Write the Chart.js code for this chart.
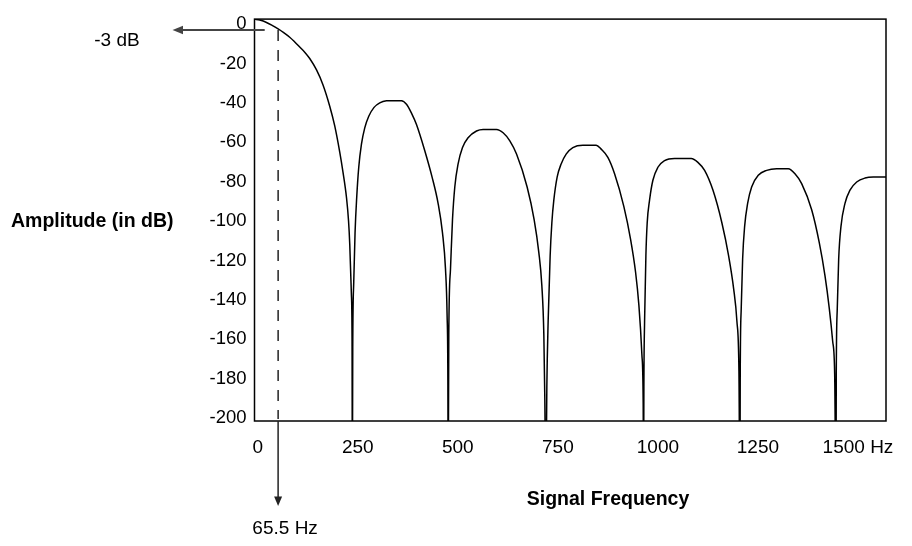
<!DOCTYPE html>
<html>
<head>
<meta charset="utf-8">
<title>Sinc filter response</title>
<script src="https://cdn.jsdelivr.net/npm/chart.js@4.4.1/dist/chart.umd.min.js"></script>
<style>
    html, body { margin: 0; padding: 0; background: #fff; }
    canvas { display: block; }
</style>
</head>
<body>
<canvas id="responseChart" width="912" height="546"></canvas>
<script>
// Filter frequency response
// Nulls go to -240 dB so the library clips them at the bottom of the plot
const freqHz = [
    -8, 5, 22, 36, 51, 65, 80, 92, 105, 118, 130, 147, 163, 180, 192.5, 205, 213, 222, 227, 230, 234, 235.8,
    236.5,
    237.5, 240, 243.25, 247.5, 252.5, 259.25, 267.5, 277.5, 290.75, 305, 321.75, 338.25, 359.25, 371.75, 384.25, 396.75, 417.5, 435.75, 450.75, 461.75, 469.25, 473.25, 475.2,
    475.9,
    477.5, 481.75, 486.75, 492.5, 500.75, 511.75, 525.75, 546.75, 563.25, 596.75, 613.25, 630, 646.75, 673.25, 690.75, 702.5, 710, 715, 717.5,
    720,
    722.5, 725.75, 730.75, 735, 740, 748.25, 758.25, 770.75, 787.5, 812.5, 845.75, 858.25, 875, 891.75, 915, 931.75, 944.25, 952.5, 960, 963.25,
    964.25,
    965, 966.75, 970, 973.25, 979.25, 987.5, 1000, 1016.75, 1041.75, 1083.25, 1100, 1116.75, 1137.5, 1160, 1176.75, 1189.25, 1197.5, 1202.5,
    1205,
    1205.75, 1208.25, 1211.75, 1216.75, 1224.25, 1234.25, 1250.75, 1271.75, 1296.75, 1325.75, 1342.5, 1359.25, 1384.25, 1403.25, 1417.5, 1428.25, 1436.75, 1441.75,
    1445,
    1445.75, 1448.25, 1451.75, 1457.5, 1467.5, 1480, 1496.75, 1517.5, 1538.25, 1570
];
const ampDb = [
    2.5, 2.0, 0.8, -0.7, -2.5, -4.4, -6.7, -9, -11.7, -14.4, -17.5, -23.3, -30.8, -41.7, -51.7, -65, -75, -88.3, -100, -111.7, -136.7, -161.7,
    -240,
    -164.3, -131, -106, -87.7, -72.7, -61, -52.7, -46.8, -42.3, -40, -39, -38.9, -38.9, -40.7, -45.2, -51, -64.3, -77.7, -91, -106, -124.3, -147.7, -181,
    -240,
    -157.7, -124.3, -99.3, -82.7, -71, -62.7, -57.7, -54.3, -53.5, -53.5, -55.2, -59.3, -66, -82.7, -99.3, -116, -132.7, -157.7, -191,
    -240,
    -184.3, -151, -117.7, -101, -89.3, -77.7, -71, -66, -62.7, -61.5, -61.5, -63.5, -67.7, -76, -92.7, -109.3, -126, -142.7, -167.7, -192.7,
    -240,
    -184.3, -151, -117.7, -101, -89.3, -79.3, -72.7, -69.3, -68.2, -68.2, -70.2, -74.3, -84.3, -101, -117.7, -134.3, -151, -176,
    -240,
    -177.7, -144.3, -119.3, -102.7, -91, -82.7, -76.8, -74.3, -73.5, -73.5, -76, -81, -94.3, -111, -127.7, -144.3, -161, -177.7,
    -240,
    -177.7, -144.3, -119.3, -102.7, -91, -84.3, -80.2, -78.2, -77.7, -77.7
];

const xTickValues = [0, 250, 500, 750, 1000, 1250, 1500];
const yTickValues = [0, -20, -40, -60, -80, -100, -120, -140, -160, -180, -200];

// -3 dB marker (as drawn in the picture) and its label
const cutoffHz = 51;
const cutoffDb = -3;
const cutoffLabel = "65.5 Hz";
const dbLabel = "-3 dB";

const FONT = "'Liberation Sans', Arial, sans-serif";

function drawArrowHead(ctx, tipX, tipY, dir) {
    // dir: 'left' or 'down'
    ctx.beginPath();
    if (dir === "left") {
        ctx.moveTo(tipX, tipY);
        ctx.lineTo(tipX + 10.5, tipY - 4.2);
        ctx.lineTo(tipX + 10.5, tipY + 4.2);
    } else {
        ctx.moveTo(tipX, tipY);
        ctx.lineTo(tipX - 4, tipY - 9.5);
        ctx.lineTo(tipX + 4, tipY - 9.5);
    }
    ctx.closePath();
    ctx.fill();
}

const markerPlugin = {
    id: "markers",
    afterDraw(chart) {
        const ctx = chart.ctx;
        const area = chart.chartArea;
        const xs = chart.scales.x;
        const ys = chart.scales.y;
        const cx = xs.getPixelForValue(cutoffHz);
        const cy = ys.getPixelForValue(cutoffDb);

        ctx.save();

        // plot frame
        ctx.strokeStyle = "#000";
        ctx.lineWidth = 1.5;
        ctx.strokeRect(area.left, area.top, area.right - area.left, area.bottom - area.top);

        // dashed cutoff line
        ctx.setLineDash([11, 9]);
        ctx.lineWidth = 1.3;
        ctx.beginPath();
        ctx.moveTo(cx, cy);
        ctx.lineTo(cx, area.bottom - 2);
        ctx.stroke();
        ctx.setLineDash([]);

        // arrow down to the frequency label
        ctx.strokeStyle = "#222";
        ctx.fillStyle = "#222";
        ctx.lineWidth = 1.5;
        ctx.beginPath();
        ctx.moveTo(cx, area.bottom);
        ctx.lineTo(cx, area.bottom + 78);
        ctx.stroke();
        drawArrowHead(ctx, cx, area.bottom + 85, "down");

        // arrow left to the -3 dB label
        ctx.strokeStyle = "#444";
        ctx.fillStyle = "#444";
        ctx.lineWidth = 2;
        ctx.beginPath();
        ctx.moveTo(xs.getPixelForValue(17.5), cy);
        ctx.lineTo(area.left - 72, cy);
        ctx.stroke();
        drawArrowHead(ctx, area.left - 82, cy, "left");

        // texts
        ctx.fillStyle = "#000";
        ctx.textBaseline = "middle";
        ctx.font = "19px " + FONT;
        ctx.textAlign = "center";
        ctx.fillText(dbLabel, 117, cy + 11);
        ctx.fillText(cutoffLabel, cx + 7, area.bottom + 108);

        ctx.font = "bold 19.5px " + FONT;
        ctx.textAlign = "left";
        ctx.fillText("Amplitude (in dB)", 11, 222);
        ctx.textAlign = "center";
        ctx.fillText("Signal Frequency", 608, area.bottom + 79);

        ctx.restore();
    }
};

new Chart(document.getElementById("responseChart"), {
    type: "line",
    data: {
        labels: freqHz,
        datasets: [{
            data: freqHz.map((f, i) => ({ x: f, y: ampDb[i] })),
            borderColor: "#000",
            borderWidth: 1.5,
            pointRadius: 0,
            fill: false,
            cubicInterpolationMode: "monotone"
        }]
    },
    options: {
        responsive: false,
        animation: false,
        devicePixelRatio: 1,
        layout: { padding: { left: 0, right: 26, top: 13, bottom: 0 } },
        plugins: {
            legend: { display: false },
            tooltip: { enabled: false }
        },
        scales: {
            x: {
                type: "linear",
                min: -8,
                max: 1570,
                afterBuildTicks: axis => { axis.ticks = xTickValues.map(v => ({ value: v })); },
                afterFit: axis => { axis.height = 125; },
                grid: { display: false, drawTicks: false, tickLength: 0 },
                border: { display: false },
                ticks: {
                    autoSkip: false,
                    maxRotation: 0,
                    padding: 15,
                    color: "#000",
                    font: { family: FONT, size: 19 },
                    callback: v => (v === 1500 ? "1500 Hz" : String(v))
                }
            },
            y: {
                type: "linear",
                min: -201.5,
                max: 2.5,
                afterBuildTicks: axis => { axis.ticks = yTickValues.map(v => ({ value: v })); },
                afterFit: axis => { axis.width = 254.5; },
                grid: { display: false, drawTicks: false, tickLength: 0 },
                border: { display: false },
                ticks: {
                    autoSkip: false,
                    padding: 8,
                    color: "#000",
                    font: { family: FONT, size: 18.5 },
                    callback: v => String(v)
                }
            }
        }
    },
    plugins: [markerPlugin]
});
</script>
</body>
</html>
